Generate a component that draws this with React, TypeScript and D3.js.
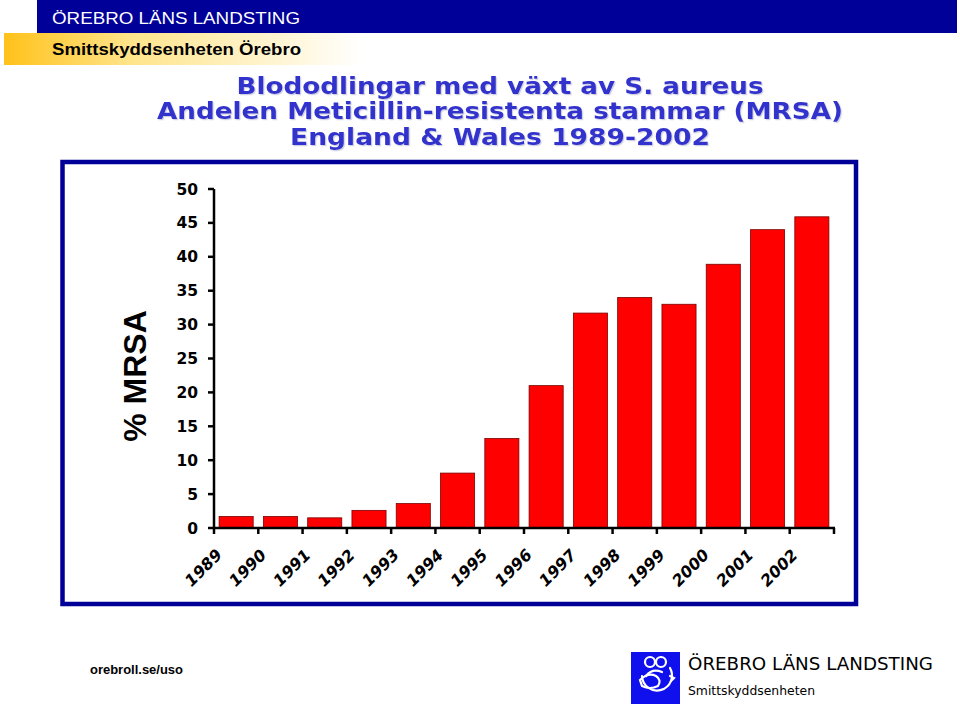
import * as d3 from 'd3';

const YEARS = ['1989', '1990', '1991', '1992', '1993', '1994', '1995', '1996', '1997', '1998', '1999', '2000', '2001', '2002'];
const MRSA_PCT = [1.7, 1.7, 1.5, 2.6, 3.6, 8.1, 13.2, 21.0, 31.7, 34.0, 33.0, 38.9, 44.0, 45.9];
const Y_TICKS = [0, 5, 10, 15, 20, 25, 30, 35, 40, 45, 50];
const TITLE_LINES = [
  'Blododlingar med växt av S. aureus',
  'Andelen Meticillin-resistenta stammar (MRSA)',
  'England & Wales 1989-2002',
];

const W = 960;
const H = 706;

export default function App() {
  const x = d3.scaleBand<string>().domain(YEARS).range([214, 834]).paddingInner(0.23).paddingOuter(0.115);
  const y = d3.scaleLinear().domain([0, 50]).range([528, 189]);
  const step = x.step();
  const x0 = x.range()[0];
  const boundaries = d3.range(YEARS.length + 1).map((i) => x0 + i * step);

  const titleY = [93.5, 119, 145];
  const titleLen = [527, 686, 420];

  return (
    <svg
      width={W}
      height={H}
      viewBox={`0 0 ${W} ${H}`}
      style={{ position: 'absolute', left: 0, top: 0, display: 'block', background: '#fff' }}
    >
      <defs>
        <linearGradient id="orange" x1="0" x2="1" y1="0" y2="0">
          <stop offset="0" stopColor="#ffc21a" />
          <stop offset="0.35" stopColor="#ffe48a" />
          <stop offset="1" stopColor="#ffffff" />
        </linearGradient>
        <filter id="shadow" x="-5%" y="-20%" width="110%" height="150%">
          <feDropShadow dx="1.2" dy="1.2" stdDeviation="0.5" floodColor="#a0a0c8" floodOpacity="0.5" />
        </filter>
      </defs>

      {/* header */}
      <rect x={37} y={0} width={920} height={33} fill="#000099" />
      <text x={52} y={24} fill="#fff" fontFamily="Liberation Sans, Arial, sans-serif" fontSize={17} textLength={248} lengthAdjust="spacingAndGlyphs">
        ÖREBRO LÄNS LANDSTING
      </text>
      <rect x={4} y={33} width={360} height={32} fill="url(#orange)" />
      <text x={52} y={55} fill="#000" fontFamily="Liberation Sans, Arial, sans-serif" fontWeight="bold" fontSize={16} textLength={249} lengthAdjust="spacingAndGlyphs">
        Smittskyddsenheten Örebro
      </text>

      {/* title */}
      <g fontFamily="DejaVu Sans, Verdana, sans-serif" fontWeight="bold" fontSize={23.5} textAnchor="middle" fill="#3333cc" filter="url(#shadow)">
        {TITLE_LINES.map((t, i) => (
          <text key={t} x={500} y={titleY[i]} textLength={titleLen[i]} lengthAdjust="spacingAndGlyphs">
            {t}
          </text>
        ))}
      </g>

      {/* chart frame */}
      <rect x={62.5} y={162} width={793.5} height={442} fill="#fff" stroke="#000099" strokeWidth={4.5} />

      {/* bars */}
      {YEARS.map((yr, i) => (
        <rect
          key={yr}
          x={x(yr)}
          y={y(MRSA_PCT[i])}
          width={x.bandwidth()}
          height={y(0) - y(MRSA_PCT[i])}
          fill="#ff0000"
          stroke="#7a0000"
          strokeWidth={0.8}
        />
      ))}

      {/* y axis */}
      <line x1={214} x2={214} y1={y(50)} y2={y(0) + 1} stroke="#000" strokeWidth={2.5} />
      {Y_TICKS.map((t) => (
        <g key={t}>
          <line x1={208} x2={214} y1={y(t)} y2={y(t)} stroke="#000" strokeWidth={2.5} />
          <text x={198} y={y(t)} dy="0.36em" textAnchor="end" fontFamily="DejaVu Sans, Verdana, sans-serif" fontWeight="bold" fontSize={15.5} fill="#000">
            {t}
          </text>
        </g>
      ))}

      {/* x axis */}
      <line x1={213} x2={boundaries[boundaries.length - 1] + 1} y1={y(0)} y2={y(0)} stroke="#000" strokeWidth={2.5} />
      {boundaries.map((bx, i) => (
        <line key={i} x1={bx} x2={bx} y1={y(0)} y2={y(0) + 6} stroke="#000" strokeWidth={2.5} />
      ))}
      {YEARS.map((yr, i) => {
        const lx = boundaries[i] + 9;
        const ly = 556;
        return (
          <text
            key={yr}
            x={lx}
            y={ly}
            textAnchor="end"
            transform={`rotate(-45 ${lx} ${ly})`}
            fontFamily="DejaVu Sans, Verdana, sans-serif"
            fontWeight="bold"
            fontStyle="italic"
            fontSize={16}
            fill="#000"
          >
            {yr}
          </text>
        );
      })}

      {/* y axis title */}
      <text
        x={146}
        y={376}
        textAnchor="middle"
        transform="rotate(-90 146 376)"
        fontFamily="Liberation Sans, Arial, sans-serif"
        fontWeight="bold"
        fontSize={32}
        fill="#000"
      >
        % MRSA
      </text>

      {/* footer */}
      <text x={90} y={674} fontFamily="Liberation Sans, Arial, sans-serif" fontWeight="bold" fontSize={12.5} fill="#000" textLength={93} lengthAdjust="spacingAndGlyphs">
        orebroll.se/uso
      </text>

      <g>
        <rect x={631} y={652} width={49} height={52} fill="#1010ee" />
        <g fill="none" stroke="#fff" strokeWidth={2.2} strokeLinecap="round">
          <circle cx={650} cy={662} r={5} />
          <circle cx={661} cy={662} r={5} />
          <path d="M642 676 A15 15 0 1 0 670 668" />
          <path d="M640 680 Q648 672 656 676 Q662 680 658 686 Q650 690 642 686 Z" />
          <path d="M646 676 Q652 668 662 672" />
          <path d="M670 676 l4 2 l-3 3" />
        </g>
        <text x={688} y={670} fontFamily="DejaVu Sans, sans-serif" fontSize={17} fill="#000" textLength={245} lengthAdjust="spacingAndGlyphs">
          ÖREBRO LÄNS LANDSTING
        </text>
        <text x={688} y={695} fontFamily="DejaVu Sans, sans-serif" fontSize={13} fill="#000" textLength={127} lengthAdjust="spacingAndGlyphs">
          Smittskyddsenheten
        </text>
      </g>
    </svg>
  );
}
